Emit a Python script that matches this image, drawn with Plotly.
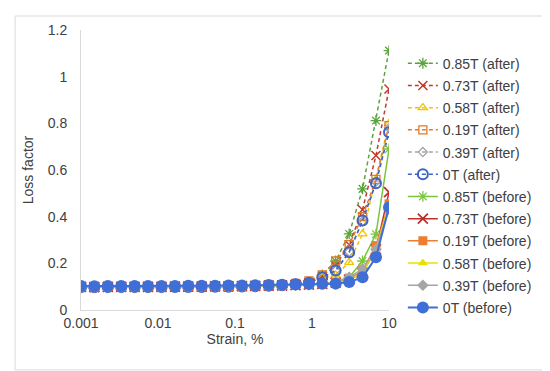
import plotly.graph_objects as go

strain = [0.001, 0.00149, 0.00223, 0.00333, 0.00497, 0.00742, 0.0111, 0.0166,
          0.0247, 0.0369, 0.0551, 0.0823, 0.123, 0.183, 0.274, 0.409, 0.611,
          0.912, 1.36, 2.03, 3.04, 4.53, 6.77, 10.0]

a085 = [0.098, 0.097, 0.098, 0.098, 0.098, 0.098, 0.098, 0.099, 0.099, 0.099, 0.100, 0.100,
        0.101, 0.102, 0.104, 0.106, 0.110, 0.118, 0.150, 0.210, 0.326, 0.519, 0.812, 1.112]
a073 = [0.098, 0.097, 0.098, 0.098, 0.098, 0.098, 0.098, 0.099, 0.099, 0.099, 0.100, 0.100,
        0.101, 0.102, 0.104, 0.106, 0.110, 0.117, 0.145, 0.190, 0.280, 0.430, 0.662, 0.947]
a058 = [0.096, 0.095, 0.096, 0.096, 0.096, 0.096, 0.096, 0.097, 0.097, 0.097, 0.098, 0.098,
        0.099, 0.100, 0.102, 0.104, 0.108, 0.115, 0.140, 0.150, 0.204, 0.326, 0.560, 0.800]
a019 = [0.099, 0.098, 0.099, 0.099, 0.099, 0.099, 0.099, 0.100, 0.100, 0.100, 0.101, 0.102,
        0.103, 0.104, 0.106, 0.109, 0.114, 0.125, 0.150, 0.210, 0.280, 0.400, 0.560, 0.790]
a039 = [0.098, 0.097, 0.098, 0.098, 0.098, 0.098, 0.098, 0.099, 0.099, 0.099, 0.100, 0.100,
        0.101, 0.102, 0.104, 0.106, 0.110, 0.117, 0.140, 0.170, 0.250, 0.380, 0.550, 0.780]
a000 = [0.098, 0.097, 0.098, 0.098, 0.098, 0.098, 0.098, 0.099, 0.099, 0.099, 0.100, 0.100,
        0.101, 0.102, 0.104, 0.106, 0.110, 0.117, 0.140, 0.169, 0.247, 0.384, 0.543, 0.762]
b085 = [0.099, 0.098, 0.099, 0.099, 0.099, 0.099, 0.099, 0.100, 0.100, 0.100, 0.101, 0.101,
        0.102, 0.103, 0.104, 0.105, 0.107, 0.110, 0.114, 0.120, 0.140, 0.210, 0.325, 0.690]
b073 = [0.099, 0.098, 0.099, 0.099, 0.099, 0.099, 0.099, 0.100, 0.100, 0.100, 0.101, 0.101,
        0.102, 0.103, 0.104, 0.105, 0.107, 0.109, 0.112, 0.117, 0.130, 0.160, 0.260, 0.505]
b019 = [0.099, 0.098, 0.099, 0.099, 0.099, 0.099, 0.099, 0.100, 0.100, 0.100, 0.101, 0.101,
        0.102, 0.103, 0.104, 0.105, 0.107, 0.109, 0.112, 0.117, 0.130, 0.170, 0.276, 0.455]
b058 = [0.097, 0.096, 0.097, 0.097, 0.097, 0.097, 0.097, 0.098, 0.098, 0.098, 0.099, 0.099,
        0.100, 0.101, 0.102, 0.103, 0.105, 0.108, 0.111, 0.116, 0.130, 0.160, 0.260, 0.450]
b039 = [0.099, 0.098, 0.099, 0.099, 0.099, 0.099, 0.099, 0.100, 0.100, 0.100, 0.101, 0.101,
        0.102, 0.103, 0.104, 0.105, 0.107, 0.109, 0.113, 0.120, 0.140, 0.176, 0.260, 0.430]
b000 = [0.103, 0.102, 0.103, 0.103, 0.103, 0.103, 0.103, 0.103, 0.104, 0.104, 0.104, 0.105,
        0.105, 0.106, 0.107, 0.108, 0.109, 0.111, 0.112, 0.113, 0.120, 0.140, 0.226, 0.440]

x_ticks = [0.001, 0.01, 0.1, 1, 10]
x_tick_labels = ["0.001", "0.01", "0.1", "1", "10"]
y_ticks = [0, 0.2, 0.4, 0.6, 0.8, 1, 1.2]
y_tick_labels = ["0", "0.2", "0.4", "0.6", "0.8", "1", "1.2"]

series = [
    ("0.85T (after)", a085, "#5ba33b", "dash", "asterisk-open", 9, 1.3),
    ("0.73T (after)", a073, "#c0392b", "dash", "x-thin-open", 9, 1.5),
    ("0.58T (after)", a058, "#f2c500", "dash", "triangle-up-open", 8, 1.3),
    ("0.19T (after)", a019, "#e07b28", "dash", "square-open", 8, 1.3),
    ("0.39T (after)", a039, "#a5a5a5", "dash", "diamond-open", 7, 1.3),
    ("0T (after)", a000, "#3e62c8", "dash", "circle-open", 10, 2.0),
    ("0.85T (before)", b085, "#7cc540", "solid", "asterisk-open", 9, 1.3),
    ("0.73T (before)", b073, "#c0302a", "solid", "x-thin-open", 10, 1.8),
    ("0.19T (before)", b019, "#ed7d31", "solid", "square", 9, 0),
    ("0.58T (before)", b058, "#e8e000", "solid", "triangle-up", 9, 0),
    ("0.39T (before)", b039, "#a5a5a5", "solid", "diamond", 9, 0),
    ("0T (before)", b000, "#3f6fd6", "solid", "circle", 12, 0),
]

fig = go.Figure()
for i, (name, yv, col, dash, sym, size, lw) in enumerate(series):
    marker = dict(symbol=sym, size=size, color=col)
    if lw > 0:
        marker["line"] = dict(color=col, width=lw)
    fig.add_trace(go.Scatter(
        x=strain, y=yv, name=name, mode="lines+markers",
        line=dict(color=col, width=2 if i == 11 else 1.5,
                  dash="4px,3px" if dash == "dash" else "solid"),
        marker=marker, legendgroup=f"g{i}",
    ))

fig.update_layout(
    width=550, height=371,
    margin=dict(l=73, r=169, t=22, b=69),
    paper_bgcolor="white", plot_bgcolor="white",
    font=dict(family="Liberation Sans, Arial, sans-serif", size=14, color="#404040"),
    showlegend=True,
    legend=dict(x=1.045, y=0.937, xanchor="left", yanchor="top",
                font=dict(size=14, color="#404040"), tracegroupgap=1,
                bgcolor="rgba(0,0,0,0)"),
    xaxis=dict(type="log", range=[-3, 1], tickvals=x_ticks, ticktext=x_tick_labels,
               showgrid=False, showline=True, linecolor="#d9d9d9", linewidth=1,
               ticks="", zeroline=False,
               title=dict(text="Strain, %", font=dict(size=14, color="#404040"), standoff=4)),
    yaxis=dict(range=[0, 1.2], tickvals=y_ticks, ticktext=y_tick_labels,
               showgrid=False, showline=True, linecolor="#d9d9d9", linewidth=1,
               ticks="", zeroline=False, ticklabelstandoff=10,
               title=dict(text="Loss factor", font=dict(size=14, color="#404040"), standoff=10)),
)

fig.add_shape(type="rect", xref="paper", yref="paper",
              x0=-0.214, x1=1.526, y0=-0.214, y1=1.05,
              line=dict(color="#d9d9d9", width=1), fillcolor="rgba(0,0,0,0)", layer="below")

fig.write_html("out.html")
